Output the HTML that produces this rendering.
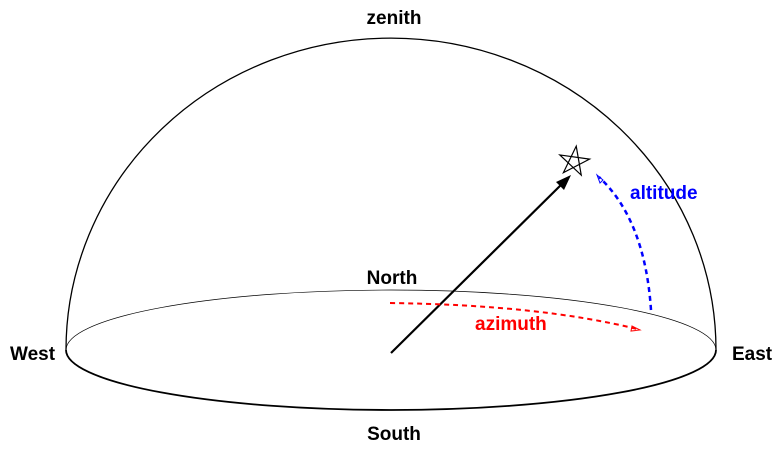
<!DOCTYPE html>
<html><head><style>body{margin:0;background:#fff}svg{display:block}</style></head><body>
<svg width="784" height="451" viewBox="0 0 784 451" xmlns="http://www.w3.org/2000/svg" font-family="Liberation Sans, sans-serif" font-weight="bold" font-size="19">
<path d="M66,350 A325,312 0 0 1 716,350" fill="none" stroke="#000" stroke-width="1.3"/>
<path d="M66,350 A325,60 0 0 1 716,350" fill="none" stroke="#000" stroke-width="0.7"/>
<path d="M66,350 A325,60 0 0 0 716,350" fill="none" stroke="#000" stroke-width="1.8"/>
<line x1="391" y1="353" x2="568" y2="178" stroke="#000" stroke-width="2.2"/>
<polygon points="571,175 556,182 564,190" fill="#000"/>
<polygon points="574,146 583,174 559,157 589,157 565,174" fill="none" stroke="#000" stroke-width="1.2" transform="rotate(8 574 162)"/>
<path d="M651,310 Q645,220 599,177" fill="none" stroke="#00f" stroke-width="2.5" stroke-dasharray="5,4"/>
<polygon points="597,175 600,183 603,180" fill="none" stroke="#00f" stroke-width="1"/>
<path d="M390,303 Q540,305 637,329" fill="none" stroke="#f00" stroke-width="2" stroke-dasharray="5,4"/>
<polygon points="640,330 632,326 631,331" fill="none" stroke="#f00" stroke-width="1"/>
<text x="394" y="24" text-anchor="middle">zenith</text>
<text x="392" y="284" text-anchor="middle">North</text>
<text x="394" y="440" text-anchor="middle">South</text>
<text x="10" y="360">West</text>
<text x="732" y="360">East</text>
<text x="630" y="199" fill="#00f">altitude</text>
<text x="475" y="330" fill="#f00">azimuth</text>
</svg>
</body></html>
